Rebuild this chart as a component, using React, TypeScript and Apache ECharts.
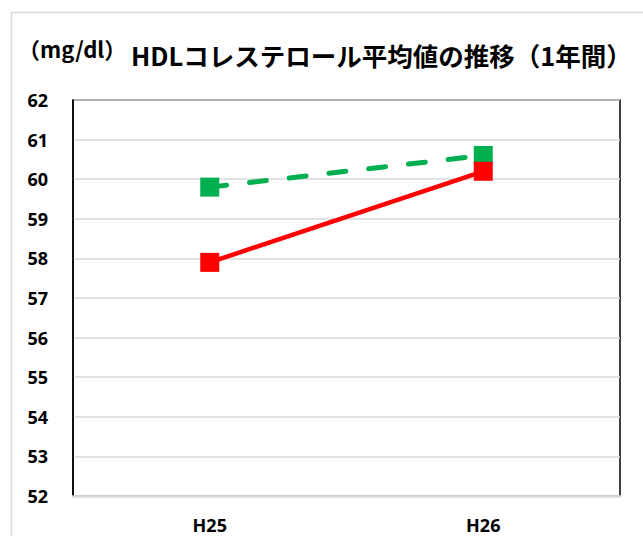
import React, { useEffect, useRef } from "react";
import * as echarts from "echarts";

const categories = ["H25", "H26"];
const seriesRed = [57.9, 60.2];
const seriesGreen = [59.8, 60.6];
const yMin = 52;
const yMax = 62;
const yInterval = 1;
const titleText = "HDLコレステロール平均値の推移（1年間）";
const unitText = "（mg/dl）";

export default function App() {
  const ref = useRef<HTMLDivElement>(null);
  useEffect(() => {
    document.body.style.margin = "0";
    const chart = echarts.init(ref.current!, null, { renderer: "svg" });
    const labelFont = "'Open Sans', Lato, sans-serif";
    const cjkFont = "'Noto Sans CJK JP', sans-serif";
    chart.setOption({
      animation: false,
      backgroundColor: "#ffffff",
      title: {
        text: titleText,
        left: 131,
        top: 41,
        padding: 0,
        textStyle: { fontSize: 25.5, fontWeight: "bold", color: "#000", fontFamily: cjkFont, lineHeight: 26 },
      },
      graphic: [
        {
          type: "rect",
          left: 9,
          top: 10,
          silent: true,
          shape: { x: 0, y: 0, width: 700, height: 600 },
          style: { fill: "none", stroke: "#d9d9d9", lineWidth: 1.5 },
        },
        {
          type: "text",
          left: 18,
          top: 37,
          silent: true,
          style: {
            text: unitText,
            font: "bold 22px 'Noto Sans CJK JP', sans-serif",
            fill: "#000",
          },
        },
      ],
      grid: {
        left: 73,
        top: 100,
        right: 23,
        bottom: 40,
        show: true,
        borderColor: "#000",
        borderWidth: 1.5,
        backgroundColor: "transparent",
        containLabel: false,
      },
      xAxis: {
        type: "category",
        data: categories,
        boundaryGap: true,
        axisLine: { show: true, lineStyle: { color: "#d9d9d9", width: 2.5 } },
        axisTick: { show: false },
        axisLabel: {
          margin: 20,
          fontSize: 18,
          fontWeight: "bold",
          color: "#000",
          fontFamily: labelFont,
        },
        splitLine: { show: false },
        z: 5,
      },
      yAxis: {
        type: "value",
        min: yMin,
        max: yMax,
        interval: yInterval,
        axisLine: { show: true, lineStyle: { color: "#000", width: 1.5 } },
        axisTick: { show: false },
        axisLabel: {
          margin: 25,
          fontSize: 18,
          fontWeight: "bold",
          color: "#000",
          fontFamily: labelFont,
        },
        splitLine: { show: true, lineStyle: { color: "#d9d9d9", width: 1.5 } },
      },
      series: [
        {
          name: "green",
          type: "line",
          data: seriesGreen,
          symbol: "rect",
          symbolSize: 19,
          itemStyle: { color: "#00b050" },
          lineStyle: { color: "#00b050", width: 5, type: [17, 23], cap: "round" },
          z: 3,
        },
        {
          name: "red",
          type: "line",
          data: seriesRed,
          symbol: "rect",
          symbolSize: 19,
          itemStyle: { color: "#ff0000" },
          lineStyle: { color: "#ff0000", width: 4.5 },
          z: 4,
        },
      ],
    });
    return () => chart.dispose();
  }, []);
  return (
    <div
      ref={ref}
      style={{ position: "absolute", left: 0, top: 0, width: 643, height: 536 }}
    />
  );
}
